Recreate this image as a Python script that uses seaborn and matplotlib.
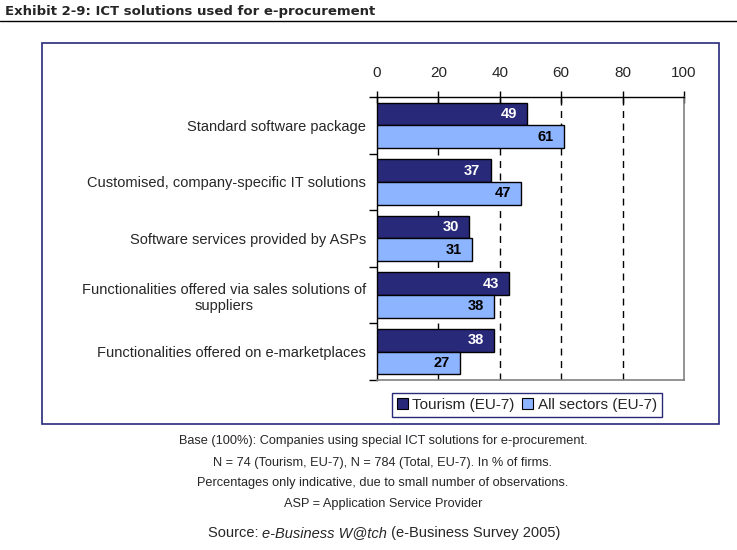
import matplotlib
matplotlib.use("Agg")
import matplotlib.pyplot as plt
import seaborn as sns
import pandas as pd
from matplotlib.patches import Rectangle, Patch
from matplotlib.lines import Line2D

categories = [
    "Standard software package",
    "Customised, company-specific IT solutions",
    "Software services provided by ASPs",
    "Functionalities offered via sales solutions of\nsuppliers",
    "Functionalities offered on e-marketplaces",
]
tourism = [49, 37, 30, 43, 38]
all_sectors = [61, 47, 31, 38, 27]
series_names = ["Tourism (EU-7)", "All sectors (EU-7)"]
x_ticks = [0, 20, 40, 60, 80, 100]

navy = "#29297A"
light = "#8DB4FF"

df = pd.DataFrame({
    "category": categories * 2,
    "value": tourism + all_sectors,
    "series": [series_names[0]] * len(categories) + [series_names[1]] * len(categories),
})

sns.set_style("white")
plt.rcParams["font.family"] = ["Liberation Sans", "DejaVu Sans"]

fig = plt.figure(figsize=(7.37, 5.5), dpi=100)
ax = fig.add_axes([377 / 737, 1 - 380 / 550, (684 - 377) / 737, (380 - 97) / 550])

sns.barplot(data=df, y="category", x="value", hue="series", orient="h",
            palette=[navy, light], saturation=1, edgecolor="black", linewidth=1,
            width=0.8, legend=False, ax=ax, zorder=3)

ax.set_xlim(0, 100)
ax.set_ylim(len(categories) - 0.5, -0.5)
ax.set_xlabel("")
ax.set_ylabel("")

for v in [20, 40, 60, 80]:
    ax.axvline(v, color="black", linestyle=(0, (5, 4)), linewidth=1, zorder=1)

ax.xaxis.tick_top()
ax.set_xticks(x_ticks)
ax.set_xticklabels([str(t) for t in x_ticks], fontsize=11)
ax.tick_params(axis="x", which="major", direction="inout", length=8, width=1,
               color="black", pad=8, top=True, bottom=False)

ax.set_yticks(range(len(categories)))
ax.set_yticklabels(categories, fontsize=10.5, multialignment="center")
ax.tick_params(axis="y", which="major", length=0, pad=8)
ax.set_yticks([i - 0.5 for i in range(len(categories) + 1)], minor=True)
ax.tick_params(axis="y", which="minor", direction="out", length=6, width=1, color="black", left=True)

for side in ["top", "left"]:
    ax.spines[side].set_color("black")
    ax.spines[side].set_linewidth(1)
for side in ["right", "bottom"]:
    ax.spines[side].set_color("#808080")
    ax.spines[side].set_linewidth(1.2)
    ax.spines[side].set_visible(True)

conts = ax.containers
ax.bar_label(conts[0], labels=[str(v) for v in tourism], label_type="edge",
             padding=-19, color="white", fontweight="bold", fontsize=10.5)
ax.bar_label(conts[1], labels=[str(v) for v in all_sectors], label_type="edge",
             padding=-19, color="black", fontweight="bold", fontsize=10.5)

handles = [Patch(facecolor=navy, edgecolor="black", linewidth=0.8),
           Patch(facecolor=light, edgecolor="black", linewidth=0.8)]
leg = fig.legend(handles, series_names, loc="center", bbox_to_anchor=(527 / 737, 1 - 405 / 550),
                 ncol=2, fontsize=11, frameon=True, fancybox=False, framealpha=1,
                 handlelength=0.7, handleheight=0.7, handletextpad=0.3, columnspacing=0.5,
                 borderpad=0.35, edgecolor=navy)
leg.get_frame().set_linewidth(1)

fig.patches.append(Rectangle((42 / 737, 1 - 424 / 550), (719 - 42) / 737, (424 - 43) / 550,
                             transform=fig.transFigure, fill=False, edgecolor=navy, linewidth=1.2))

fig.text(5 / 737, 1 - 12 / 550, "Exhibit 2-9: ICT solutions used for e-procurement",
         fontsize=9.5, fontweight="bold", family="DejaVu Sans", va="center", ha="left")
fig.add_artist(Line2D([0, 1], [1 - 21 / 550, 1 - 21 / 550], transform=fig.transFigure,
                      color="black", linewidth=1))

notes = [
    "Base (100%): Companies using special ICT solutions for e-procurement.",
    "N = 74 (Tourism, EU-7), N = 784 (Total, EU-7). In % of firms.",
    "Percentages only indicative, due to small number of observations.",
    "ASP = Application Service Provider",
]
ys = [441, 463, 483, 504]
for t, y in zip(notes, ys):
    fig.text(383 / 737, 1 - y / 550, t, fontsize=9.2, ha="center", va="center")

pieces = [("Source: ", "normal"), ("e-Business W@tch", "italic"), (" (e-Business Survey 2005)", "normal")]
fig.canvas.draw()
renderer = fig.canvas.get_renderer()
texts = []
widths = []
for s, style in pieces:
    t = fig.text(0, 1 - 533 / 550, s, fontsize=10.5, style=style, ha="left", va="center")
    widths.append(t.get_window_extent(renderer).width)
    texts.append(t)
total = sum(widths)
x0 = 384 - total / 2
for t, w in zip(texts, widths):
    t.set_x(x0 / 737)
    x0 += w

fig.savefig("out.png", dpi=100)
